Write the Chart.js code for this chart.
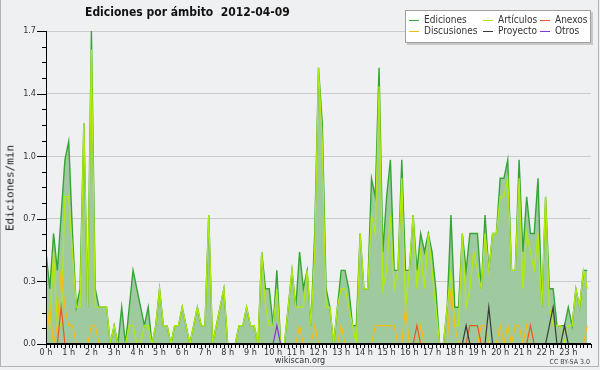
<!DOCTYPE html>
<html>
<head>
<meta charset="utf-8">
<script src="https://cdn.jsdelivr.net/npm/chart.js@4.4.1/dist/chart.umd.min.js"></script>
<style>
  body { margin: 0; background: #fff; }
  #box { position: relative; width: 600px; height: 370px; background: #eff0f2; overflow: hidden;
         font-family: "DejaVu Sans Condensed", "DejaVu Sans", sans-serif; color: #333; }
  #chart { position: absolute; left: 0; top: 0; }
  #frame { position: absolute; left: 0; top: 0; width: 597px; height: 366px;
           border: 1px solid #b4b4b4; border-top: none; pointer-events: none; }
  #title { position: absolute; left: 85px; top: 5px; font-weight: bold; font-size: 12px; color: #111; white-space: pre; }
  #ytitle { position: absolute; left: 10px; top: 188px; transform: translate(-50%, -50%) rotate(-90deg);
            font-family: "DejaVu Sans Mono", monospace; font-size: 11px; white-space: nowrap; color: #222; }
  #legend { position: absolute; left: 405px; top: 10px; width: 184px; height: 31px; background: #fff;
            border: 1px solid #a0a0a0; box-shadow: 2px 2px 0 #c8c8c8; }
  .item { position: absolute; font-size: 10px; line-height: 11px; white-space: nowrap; color: #333; }
  .item i { display: inline-block; width: 10px; height: 1px; vertical-align: middle; margin-right: 5px; }
  #site { position: absolute; left: 0; width: 600px; top: 355px; text-align: center; font-size: 9px; color: #333; }
  #lic { position: absolute; right: 10px; top: 358px; font-size: 7px; color: #444; }
</style>
</head>
<body>
<div id="box">
  <canvas id="chart" width="600" height="370"></canvas>
  <div id="title">Ediciones por ámbito  2012-04-09</div>
  <div id="ytitle">Ediciones/min</div>
  <div id="legend"></div>
  <div id="site">wikiscan.org</div>
  <div id="lic">CC BY-SA 3.0</div>
  <div id="frame"></div>
</div>
<script>
// one value per 10 minutes, 0 h .. 23 h 50
const ediciones = [
  0.5, 0.3, 0.6, 0.4, 0.7, 1.0,
  1.1, 0.6, 0.2, 0.3, 1.2, 0.2,
  1.7, 0.3, 0.2, 0.2, 0.2, 0.0,
  0.1, 0.0, 0.2, 0.0, 0.2, 0.4,
  0.3, 0.2, 0.1, 0.2, 0.0, 0.1,
  0.3, 0.1, 0.1, 0.0, 0.1, 0.1,
  0.2, 0.1, 0.0, 0.1, 0.2, 0.1,
  0.1, 0.7, 0.0, 0.1, 0.2, 0.3,
  0.0, 0.0, 0.0, 0.1, 0.1, 0.2,
  0.1, 0.1, 0.0, 0.5, 0.3, 0.3,
  0.1, 0.4, 0.0, 0.0, 0.2, 0.4,
  0.2, 0.5, 0.3, 0.4, 0.1, 0.6,
  1.5, 1.2, 0.3, 0.2, 0.0, 0.2,
  0.4, 0.4, 0.3, 0.1, 0.1, 0.6,
  0.3, 0.3, 0.9, 0.8, 1.5, 0.5,
  0.8, 1.0, 0.4, 0.4, 1.0, 0.4,
  0.4, 0.7, 0.4, 0.6, 0.5, 0.6,
  0.5, 0.3, 0.0, 0.0, 0.2, 0.7,
  0.2, 0.2, 0.6, 0.4, 0.6, 0.6,
  0.6, 0.3, 0.7, 0.4, 0.6, 0.6,
  0.9, 0.9, 1.0, 0.4, 0.4, 1.0,
  0.5, 0.8, 0.6, 0.6, 0.9, 0.2,
  0.8, 0.3, 0.3, 0.1, 0.1, 0.1,
  0.2, 0.1, 0.3, 0.2, 0.4, 0.4
];
const articulos = [
  0.2, 0.1, 0.5, 0.1, 0.1, 0.8,
  0.8, 0.5, 0.2, 0.2, 1.2, 0.2,
  1.6, 0.2, 0.2, 0.2, 0.2, 0.0,
  0.1, 0.0, 0.0, 0.0, 0.1, 0.1,
  0.0, 0.0, 0.1, 0.1, 0.0, 0.1,
  0.3, 0.1, 0.1, 0.0, 0.1, 0.1,
  0.2, 0.1, 0.0, 0.1, 0.2, 0.1,
  0.1, 0.7, 0.0, 0.1, 0.2, 0.3,
  0.0, 0.0, 0.0, 0.1, 0.1, 0.2,
  0.1, 0.1, 0.0, 0.5, 0.2, 0.1,
  0.1, 0.3, 0.0, 0.0, 0.2, 0.4,
  0.2, 0.2, 0.2, 0.4, 0.1, 0.5,
  1.5, 1.1, 0.2, 0.2, 0.0, 0.2,
  0.3, 0.3, 0.2, 0.1, 0.0, 0.6,
  0.3, 0.3, 0.7, 0.6, 1.4, 0.3,
  0.4, 0.7, 0.3, 0.4, 0.9, 0.2,
  0.4, 0.7, 0.3, 0.5, 0.3, 0.6,
  0.4, 0.2, 0.0, 0.0, 0.2, 0.4,
  0.1, 0.1, 0.6, 0.2, 0.3, 0.5,
  0.4, 0.3, 0.6, 0.4, 0.6, 0.6,
  0.8, 0.8, 0.9, 0.4, 0.4, 0.9,
  0.3, 0.6, 0.5, 0.4, 0.6, 0.2,
  0.8, 0.2, 0.1, 0.1, 0.1, 0.0,
  0.1, 0.1, 0.3, 0.2, 0.4, 0.3
];
const discusiones = [
  0.0, 0.2, 0.0, 0.1, 0.4, 0.2,
  0.1, 0.1, 0.0, 0.0, 0.0, 0.0,
  0.1, 0.1, 0.0, 0.0, 0.0, 0.0,
  0.0, 0.0, 0.0, 0.0, 0.0, 0.0,
  0.0, 0.0, 0.0, 0.0, 0.0, 0.0,
  0.0, 0.0, 0.0, 0.0, 0.0, 0.0,
  0.0, 0.0, 0.0, 0.0, 0.0, 0.0,
  0.0, 0.0, 0.0, 0.0, 0.0, 0.0,
  0.0, 0.0, 0.0, 0.0, 0.0, 0.0,
  0.0, 0.0, 0.0, 0.0, 0.0, 0.0,
  0.0, 0.0, 0.0, 0.0, 0.0, 0.0,
  0.0, 0.1, 0.0, 0.0, 0.0, 0.1,
  0.0, 0.0, 0.0, 0.0, 0.0, 0.0,
  0.1, 0.0, 0.0, 0.0, 0.0, 0.0,
  0.0, 0.0, 0.0, 0.1, 0.1, 0.1,
  0.1, 0.1, 0.1, 0.0, 0.0, 0.2,
  0.0, 0.0, 0.0, 0.1, 0.0, 0.0,
  0.0, 0.0, 0.0, 0.0, 0.0, 0.3,
  0.1, 0.0, 0.0, 0.0, 0.0, 0.0,
  0.0, 0.1, 0.1, 0.0, 0.0, 0.0,
  0.1, 0.0, 0.1, 0.0, 0.1, 0.1,
  0.0, 0.1, 0.0, 0.0, 0.0, 0.0,
  0.0, 0.0, 0.0, 0.0, 0.0, 0.0,
  0.0, 0.0, 0.0, 0.0, 0.0, 0.1
];
// sparse series: slot -> value, every other slot is 0
const anexos = { 4: 0.2, 98: 0.1, 112: 0.1, 113: 0.1, 114: 0.1, 128: 0.1 };
const proyecto = { 111: 0.1, 117: 0.2, 133: 0.1, 134: 0.2, 137: 0.1 };
const otros = { 61: 0.1 };

const hourLabels = ['0 h', '1 h', '2 h', '3 h', '4 h', '5 h', '6 h', '7 h', '8 h', '9 h', '10 h', '11 h',
  '12 h', '13 h', '14 h', '15 h', '16 h', '17 h', '18 h', '19 h', '20 h', '21 h', '22 h', '23 h'];
const yTicks = [0, 0.34, 0.68, 1.02, 1.36, 1.7];
const yTickLabels = ['0.0', '0.3', '0.7', '1.0', '1.4', '1.7'];

const seriesNames = ['Ediciones', 'Artículos', 'Anexos', 'Discusiones', 'Proyecto', 'Otros'];
const colors = {
  Ediciones: '#35a535', 'Artículos': '#b2ea0c', Anexos: '#ee5522',
  Discusiones: '#f5bd14', Proyecto: '#3a3a3a', Otros: '#8a33e0'
};

const points = arr => arr.map((v, i) => ({ x: i, y: v }));
const sparse = obj => ediciones.map((_, i) => ({ x: i, y: obj[i] || 0 }));

// legend (html)
const legend = document.getElementById('legend');
seriesNames.forEach((name, k) => {
  const d = document.createElement('div');
  d.className = 'item';
  d.style.left = [3, 77, 134][k % 3] + 'px';
  d.style.top = (k < 3 ? 3 : 14) + 'px';
  d.innerHTML = '<i style="background:' + colors[name] + '"></i>' + name;
  legend.appendChild(d);
});

const axesPlugin = {
  id: 'axesPlugin',
  afterDatasetsDraw(chart) {
    const { ctx, chartArea: a, scales: { x, y } } = chart;
    ctx.save();
    ctx.strokeStyle = '#000';
    ctx.lineWidth = 1;
    ctx.beginPath();
    // y ticks, 4 small steps per label
    for (let k = 0; k <= 20; k++) {
      const py = Math.round(y.getPixelForValue(k * 0.085)) + 0.5;
      const len = k % 4 === 0 ? 9 : 4;
      ctx.moveTo(a.left - len, py);
      ctx.lineTo(a.left, py);
    }
    // x ticks every 10 minutes
    for (let s = 0; s <= 144; s++) {
      const px = Math.round(x.getPixelForValue(s)) + 0.5;
      ctx.moveTo(px, a.bottom);
      ctx.lineTo(px, a.bottom + 4);
    }
    ctx.moveTo(a.left + 0.5, a.top);
    ctx.lineTo(a.left + 0.5, a.bottom);
    ctx.stroke();
    ctx.lineWidth = 2;
    ctx.beginPath();
    ctx.moveTo(a.left, a.bottom);
    ctx.lineTo(a.right, a.bottom);
    ctx.stroke();
    ctx.restore();
  }
};

const tickFont = { family: '"DejaVu Sans Condensed", "DejaVu Sans", sans-serif', size: 9 };

new Chart(document.getElementById('chart'), {
  type: 'line',
  data: {
    datasets: [
      { label: 'Ediciones', data: points(ediciones), borderColor: colors.Ediciones, borderWidth: 1.4,
        backgroundColor: '#9fca9f', fill: 'origin', order: 6 },
      { label: 'Artículos', data: points(articulos), borderColor: colors['Artículos'], borderWidth: 1.3, fill: false, order: 5 },
      { label: 'Discusiones', data: points(discusiones), borderColor: colors.Discusiones, borderWidth: 1.2, fill: false, order: 4 },
      { label: 'Anexos', data: sparse(anexos), borderColor: colors.Anexos, borderWidth: 1.2, fill: false, order: 3 },
      { label: 'Proyecto', data: sparse(proyecto), borderColor: colors.Proyecto, borderWidth: 1.2, fill: false, order: 2 },
      { label: 'Otros', data: sparse(otros), borderColor: colors.Otros, borderWidth: 1.2, fill: false, order: 1 }
    ]
  },
  options: {
    responsive: false,
    animation: false,
    devicePixelRatio: 1,
    layout: { padding: { top: 31, right: 9, left: 0, bottom: 0 } },
    elements: { point: { radius: 0 }, line: { tension: 0 } },
    plugins: { legend: { display: false }, title: { display: false }, tooltip: { enabled: false } },
    scales: {
      x: {
        type: 'linear', min: 0, max: 144,
        grid: { display: false, drawTicks: false },
        border: { display: false },
        afterFit: s => { s.height = 26; },
        ticks: {
          stepSize: 6, autoSkip: false, maxRotation: 0, padding: 3,
          color: '#333', font: tickFont,
          callback: v => hourLabels[v / 6] || null
        }
      },
      y: {
        min: 0, max: 1.7,
        grid: { color: '#cbcbcb', lineWidth: 1, drawTicks: false },
        border: { display: false },
        afterFit: s => { s.width = 46; },
        afterBuildTicks: s => { s.ticks = yTicks.map(v => ({ value: v })); },
        ticks: {
          padding: 10, color: '#333', font: tickFont,
          callback: (v, i) => yTickLabels[i]
        }
      }
    }
  },
  plugins: [axesPlugin]
});
</script>
</body>
</html>
